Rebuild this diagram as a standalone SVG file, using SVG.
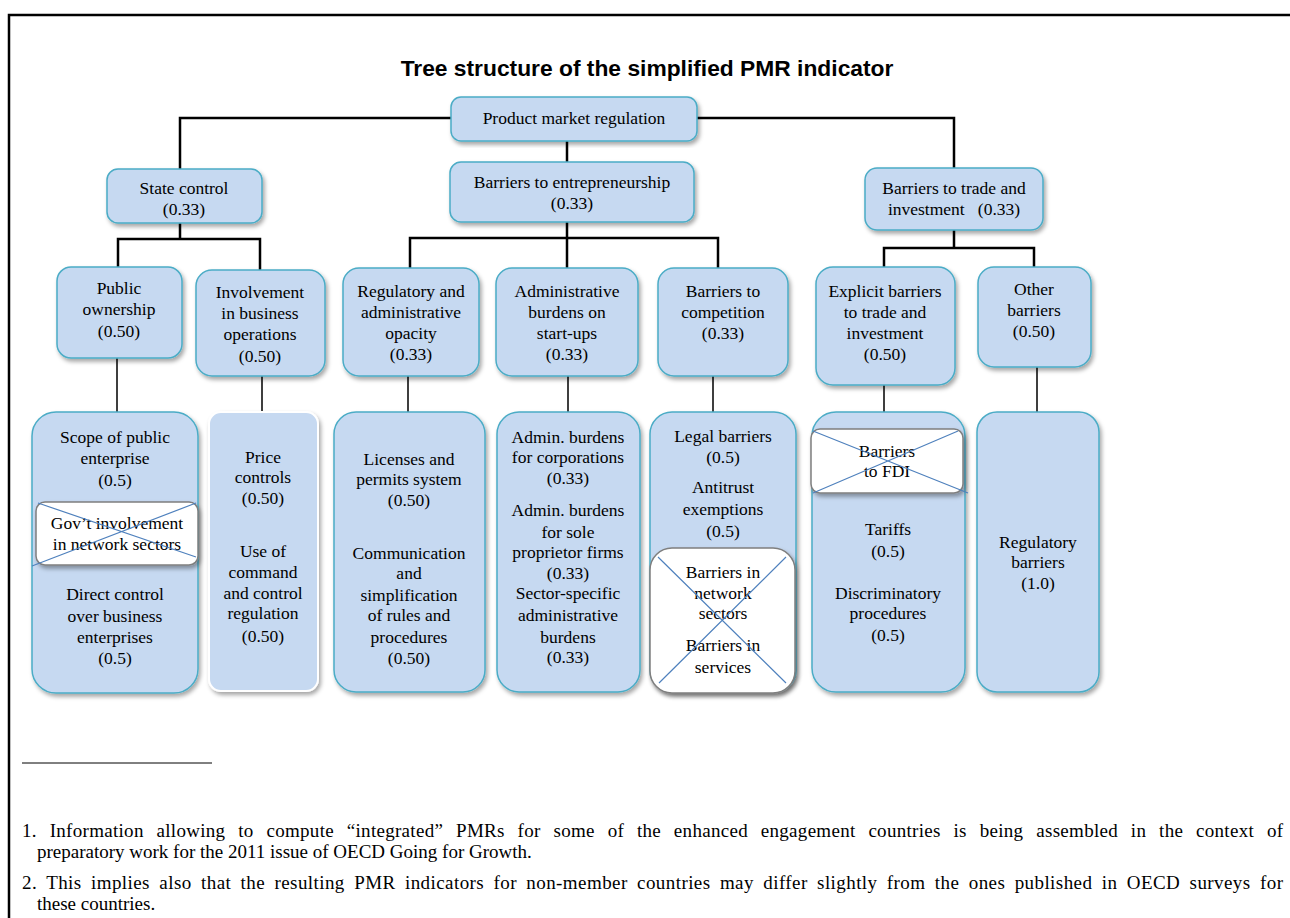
<svg xmlns="http://www.w3.org/2000/svg" width="1290" height="918" viewBox="0 0 1290 918">
<defs>
<filter id="sh" x="-10%" y="-10%" width="125%" height="125%">
<feDropShadow dx="2" dy="3" stdDeviation="2" flood-color="#000" flood-opacity="0.35"/>
</filter>
<style>
.b{fill:#c6d9f1;stroke:#4bacc6;stroke-width:1.5;filter:url(#sh)}
.bw{fill:#c6d9f1;stroke:#ffffff;stroke-width:2;filter:url(#sh)}
.x{fill:#ffffff;stroke:#7f7f7f;stroke-width:1.5;filter:url(#sh)}
.xl{stroke:#4f81bd;stroke-width:1.2;fill:none}
.c1{stroke:#000;stroke-width:2.5;fill:none}
.c2{stroke:#000;stroke-width:1.5;fill:none}
text{font-family:"Liberation Serif","Times New Roman",serif;font-size:17.5px;fill:#000;text-anchor:middle}
.t{font-family:"Liberation Sans",Arial,sans-serif;font-weight:bold;font-size:22.8px}
.f{font-size:19px;text-anchor:start}
</style>
</defs>
<rect x="0" y="0" width="1290" height="918" fill="#fff"/>
<path d="M9,918 V15 H1290" fill="none" stroke="#000" stroke-width="2.5"/>
<text class="t" x="647" y="76">Tree structure of the simplified PMR indicator</text>

<g id="connectors">
<path class="c1" d="M451,118 H180 V169"/>
<path class="c1" d="M697,118 H954 V168"/>
<path class="c1" d="M567,141 V162"/>
<path class="c1" d="M180,223 V239 M118,267 V239 H260 V270"/>
<path class="c1" d="M567,222 V238 M410,268 V238 H718 V268 M567,238 V268"/>
<path class="c1" d="M954,230 V248 M884,267 V248 H1034 V267"/>
<path class="c2" d="M117,358 V412 M262,376 V412 M408,376 V412 M568,376 V412 M713,376 V412 M884,385 V412 M1037,367 V412"/>
</g>

<g id="n-pmr"><rect class="b" x="451" y="97" width="246" height="44" rx="10"/><text x="574" y="124">Product market regulation</text></g>
<g id="n-state"><rect class="b" x="107" y="169" width="155" height="54" rx="11"/><text x="184" y="194">State control</text><text x="184" y="215">(0.33)</text></g>
<g id="n-bte"><rect class="b" x="450" y="162" width="244" height="60" rx="11"/><text x="572" y="188">Barriers to entrepreneurship</text><text x="572" y="209">(0.33)</text></g>
<g id="n-btti"><rect class="b" x="865" y="168" width="178" height="62" rx="12"/><text x="954" y="194">Barriers to trade and</text><text x="954" y="215" xml:space="preserve">investment   (0.33)</text></g>

<g id="n-po"><rect class="b" x="57" y="267" width="125" height="91" rx="14"/><text x="119" y="294">Public</text><text x="119" y="315">ownership</text><text x="119" y="337">(0.50)</text></g>
<g id="n-inv"><rect class="b" x="196" y="270" width="129" height="106" rx="16"/><text x="260" y="298">Involvement</text><text x="260" y="319">in business</text><text x="260" y="340">operations</text><text x="260" y="362">(0.50)</text></g>
<g id="n-reg"><rect class="b" x="343" y="268" width="136" height="108" rx="16"/><text x="411" y="297">Regulatory and</text><text x="411" y="318">administrative</text><text x="411" y="339">opacity</text><text x="411" y="360">(0.33)</text></g>
<g id="n-adm"><rect class="b" x="496" y="268" width="142" height="108" rx="16"/><text x="567" y="297">Administrative</text><text x="567" y="318">burdens on</text><text x="567" y="339">start-ups</text><text x="567" y="360">(0.33)</text></g>
<g id="n-btc"><rect class="b" x="658" y="268" width="130" height="108" rx="16"/><text x="723" y="297">Barriers to</text><text x="723" y="318">competition</text><text x="723" y="339">(0.33)</text></g>
<g id="n-exp"><rect class="b" x="816" y="267" width="139" height="118" rx="17"/><text x="885" y="297">Explicit barriers</text><text x="885" y="318">to trade and</text><text x="885" y="339">investment</text><text x="885" y="360">(0.50)</text></g>
<g id="n-oth"><rect class="b" x="978" y="267" width="113" height="100" rx="16"/><text x="1034" y="295">Other</text><text x="1034" y="316">barriers</text><text x="1034" y="337">(0.50)</text></g>

<g id="n-scope"><rect class="b" x="32" y="412" width="166" height="281" rx="24"/>
<text x="115" y="443">Scope of public</text><text x="115" y="464">enterprise</text><text x="115" y="486">(0.5)</text>
<rect class="x" x="36" y="502" width="162" height="63" rx="9"/>
<text x="117" y="529">Gov’t involvement</text><text x="117" y="550">in network sectors</text>
<path class="xl" d="M38,503 L196,557 M32,566 L196,503"/>
<text x="115" y="600">Direct control</text><text x="115" y="622">over business</text><text x="115" y="643">enterprises</text><text x="115" y="664">(0.5)</text></g>

<g id="n-price"><rect class="bw" x="209" y="412" width="109" height="279" rx="12"/>
<text x="263" y="463">Price</text><text x="263" y="483">controls</text><text x="263" y="504">(0.50)</text>
<text x="263" y="557">Use of</text><text x="263" y="578">command</text><text x="263" y="599">and control</text><text x="263" y="619">regulation</text><text x="263" y="642">(0.50)</text></g>

<g id="n-lic"><rect class="b" x="334" y="412" width="151" height="280" rx="22"/>
<text x="409" y="465">Licenses and</text><text x="409" y="485">permits system</text><text x="409" y="506">(0.50)</text>
<text x="409" y="559">Communication</text><text x="409" y="579">and</text><text x="409" y="601">simplification</text><text x="409" y="621">of rules and</text><text x="409" y="643">procedures</text><text x="409" y="664">(0.50)</text></g>

<g id="n-admb"><rect class="b" x="497" y="412" width="143" height="280" rx="22"/>
<text x="568" y="443">Admin. burdens</text><text x="568" y="463">for corporations</text><text x="568" y="484">(0.33)</text>
<text x="568" y="516">Admin. burdens</text><text x="568" y="538">for sole</text><text x="568" y="558">proprietor firms</text><text x="568" y="579">(0.33)</text>
<text x="568" y="599">Sector-specific</text><text x="568" y="621">administrative</text><text x="568" y="643">burdens</text><text x="568" y="663">(0.33)</text></g>

<g id="n-legal"><rect class="b" x="650" y="412" width="146" height="280" rx="22"/>
<text x="723" y="442">Legal barriers</text><text x="723" y="463">(0.5)</text>
<text x="723" y="493">Antitrust</text><text x="723" y="515">exemptions</text><text x="723" y="537">(0.5)</text>
<rect class="x" x="650" y="548" width="145" height="145" rx="22"/>
<text x="723" y="578">Barriers in</text><text x="723" y="599">network</text><text x="723" y="619">sectors</text>
<text x="723" y="651">Barriers in</text><text x="723" y="673">services</text>
<path class="xl" d="M658,557 L786,683 M659,683 L786,557"/></g>

<g id="n-tariff"><rect class="b" x="812" y="412" width="153" height="280" rx="24"/>
<rect class="x" x="811" y="429" width="152" height="64" rx="9"/>
<text x="887" y="457">Barriers</text><text x="887" y="477">to FDI</text>
<path class="xl" d="M813,431 L968,493 M813,493 L958,431"/>
<text x="888" y="535">Tariffs</text><text x="888" y="557">(0.5)</text>
<text x="888" y="599">Discriminatory</text><text x="888" y="619">procedures</text><text x="888" y="641">(0.5)</text></g>

<g id="n-regb"><rect class="b" x="977" y="412" width="122" height="280" rx="20"/>
<text x="1038" y="548">Regulatory</text><text x="1038" y="568">barriers</text><text x="1038" y="589">(1.0)</text></g>

<g id="footnotes">
<line x1="22" y1="763" x2="212" y2="763" stroke="#000" stroke-width="1"/>
<text class="f" x="22" y="837" word-spacing="7.8" textLength="1261" lengthAdjust="spacing">1. Information allowing to compute “integrated” PMRs for some of the enhanced engagement countries is being assembled in the context of</text>
<text class="f" x="37" y="858">preparatory work for the 2011 issue of OECD Going for Growth.</text>
<text class="f" x="22" y="889" word-spacing="4.2" textLength="1261" lengthAdjust="spacing">2. This implies also that the resulting PMR indicators for non-member countries may differ slightly from the ones published in OECD surveys for</text>
<text class="f" x="37" y="910">these countries.</text>
</g>
</svg>
